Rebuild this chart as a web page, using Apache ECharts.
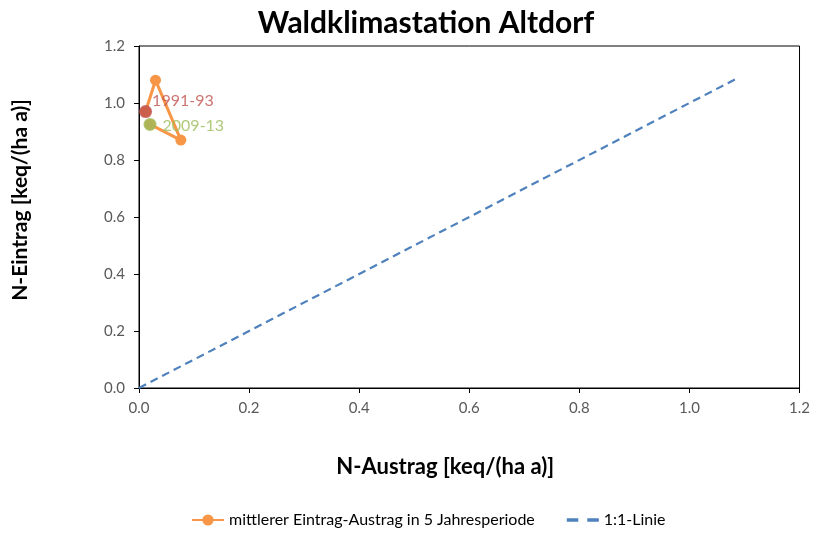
<!DOCTYPE html>
<html><head><meta charset="utf-8">
<script src="https://cdn.jsdelivr.net/npm/echarts@6/dist/echarts.min.js"></script>
<style>html,body{margin:0;padding:0;background:#fff}#c{width:813px;height:534px}</style>
</head><body><div id="c"></div>
<script>
// Period means: N-Austrag (x), N-Eintrag (y)
const austrag = [0.012, 0.030, 0.076, 0.020];
const eintrag = [0.970, 1.080, 0.870, 0.925];
const firstLabel = '1991-93';
const lastLabel = '2009-13';
const oneToOne = [[0, 0], [1.085, 1.085]];
const ticks = [0, 0.2, 0.4, 0.6, 0.8, 1.0, 1.2];

const F = 'Lato, "Open Sans", sans-serif';
const pathData = austrag.map((x, i) => [x, eintrag[i]]);
const chart = echarts.init(document.getElementById('c'));
chart.setOption({
  animation: false,
  title: { text: 'Waldklimastation Altdorf', left: 421, top: 3, textAlign: 'center',
    textStyle: { fontFamily: F, fontSize: 30, fontWeight: 'bold', color: '#000' } },
  grid: { left: 139, right: 13, top: 46, bottom: 146, show: true, borderColor: '#000', borderWidth: 1 },
  legend: { bottom: 1, left: 186, itemGap: 32, itemWidth: 32,
    textStyle: { fontFamily: F, fontSize: 16, color: '#000' },
    data: [{ name: 'mittlerer Eintrag-Austrag in 5 Jahresperiode' },
           { name: '1:1-Linie', icon: 'path://M0,0h9v2.6h-9z M16,0h9v2.6h-9z' }] },
  xAxis: { type: 'value', min: 0, max: 1.2, interval: 0.2,
    name: 'N-Austrag [keq/(ha a)]', nameLocation: 'middle', nameGap: 68,
    nameTextStyle: { fontFamily: F, fontSize: 22, fontWeight: 'bold', color: '#000', padding: [0, 48, 0, 0] },
    axisLine: { lineStyle: { color: '#000' } },
    axisTick: { inside: false, length: 5, lineStyle: { color: '#000' } },
    axisLabel: { fontFamily: F, fontSize: 15, color: '#595959', margin: 13, formatter: v => v.toFixed(1) },
    splitLine: { show: false } },
  yAxis: { type: 'value', min: 0, max: 1.2, interval: 0.2,
    name: 'N-Eintrag [keq/(ha a)]', nameLocation: 'middle', nameGap: 108,
    nameTextStyle: { fontFamily: F, fontSize: 21, fontWeight: 'bold', color: '#000', padding: [0, 0, 0, 34] },
    axisLine: { show: true, lineStyle: { color: '#000' } },
    axisTick: { show: true, length: 5, lineStyle: { color: '#000' } },
    axisLabel: { fontFamily: F, fontSize: 15, color: '#595959', margin: 14, formatter: v => v.toFixed(1) },
    splitLine: { show: false } },
  series: [
    { name: '1:1-Linie', type: 'line', data: oneToOne, symbol: 'none',
      lineStyle: { color: '#4f81bd', width: 2.2, type: [8, 5] }, itemStyle: { color: '#4f81bd' } },
    { name: 'mittlerer Eintrag-Austrag in 5 Jahresperiode', type: 'line', data: pathData,
      symbol: 'circle', symbolSize: 11, lineStyle: { color: '#f79646', width: 3 },
      itemStyle: { color: '#f79646' }, z: 2 },
    { type: 'scatter', data: [pathData[0]], symbolSize: 13, z: 10, itemStyle: { color: '#c0504d' },
      label: { show: true, position: 'right', distance: 0, offset: [0, -11], formatter: firstLabel,
        fontFamily: F, fontSize: 16, color: '#c0504d' } },
    { type: 'scatter', data: [pathData[pathData.length - 1]], symbolSize: 13, z: 10, itemStyle: { color: '#9bbb59' },
      label: { show: true, position: 'right', distance: 6, offset: [0, 1], formatter: lastLabel,
        fontFamily: F, fontSize: 16, color: '#9bbb59' } }
  ]
});
</script></body></html>
